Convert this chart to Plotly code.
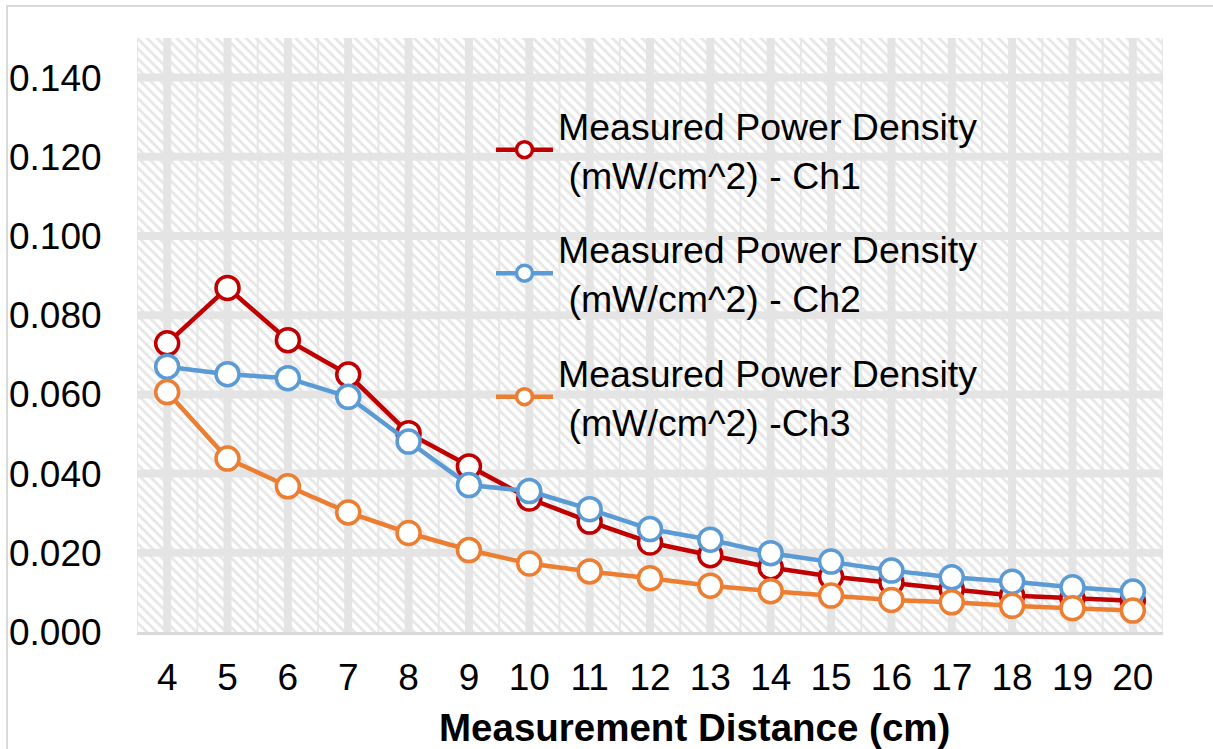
import plotly.graph_objects as go

distance = [4, 5, 6, 7, 8, 9, 10, 11, 12, 13, 14, 15, 16, 17, 18, 19, 20]
ch1 = [0.0729, 0.0869, 0.0737, 0.0650, 0.0502, 0.0418, 0.0337, 0.0279, 0.0226, 0.0194,
       0.0163, 0.0140, 0.0125, 0.0108, 0.0092, 0.0085, 0.0079]
ch2 = [0.0670, 0.0651, 0.0641, 0.0594, 0.0481, 0.0371, 0.0356, 0.0310, 0.0260, 0.0233,
       0.0199, 0.0178, 0.0155, 0.0138, 0.0127, 0.0113, 0.0102]
ch3 = [0.0606, 0.0438, 0.0368, 0.0302, 0.0250, 0.0207, 0.0173, 0.0153, 0.0136, 0.0117,
       0.0103, 0.0092, 0.0081, 0.0075, 0.0066, 0.0060, 0.0054]
names = ["Measured Power Density<br>\u00a0(mW/cm^2) - Ch1",
         "Measured Power Density<br>\u00a0(mW/cm^2) - Ch2",
         "Measured Power Density<br>\u00a0(mW/cm^2) -Ch3"]
colors = ["#C00000", "#5B9BD5", "#ED7D31"]
y_ticks = [0.00, 0.02, 0.04, 0.06, 0.08, 0.10, 0.12, 0.14]
y_max = 0.15
x_title = "Measurement Distance (cm)"

x_lo, x_hi = distance[0] - 0.5, distance[-1] + 0.5

fig = go.Figure()

# hatched plot background
fig.add_trace(go.Scatter(
    x=[x_lo, x_hi, x_hi, x_lo, x_lo], y=[0, 0, y_max, y_max, 0],
    mode="lines", line=dict(width=0), fill="toself",
    fillcolor="rgba(0,0,0,0)",
    fillpattern=dict(shape="\\", fgcolor="#cdcdcd", bgcolor="rgba(255,255,255,0)",
                     size=7, solidity=0.4),
    hoverinfo="skip", showlegend=False))

# thin vertical gridlines at category boundaries
gx, gy = [], []
for i in range(len(distance) + 1):
    xv = x_lo + i
    gx += [xv, xv, None]
    gy += [0, y_max, None]
fig.add_trace(go.Scatter(x=gx, y=gy, mode="lines", line=dict(color="#e6e6e6", width=2),
                         hoverinfo="skip", showlegend=False))
# thick vertical gridlines at categories
gx, gy = [], []
for xv in distance:
    gx += [xv, xv, None]
    gy += [0, y_max, None]
fig.add_trace(go.Scatter(x=gx, y=gy, mode="lines", line=dict(color="#e4e4e4", width=8),
                         hoverinfo="skip", showlegend=False))
# thick horizontal gridlines
gx, gy = [], []
for yv in y_ticks[1:]:
    gx += [x_lo, x_hi, None]
    gy += [yv, yv, None]
fig.add_trace(go.Scatter(x=gx, y=gy, mode="lines", line=dict(color="#e4e4e4", width=8),
                         hoverinfo="skip", showlegend=False))

for i, (ys, c, n) in enumerate(zip([ch1, ch2, ch3], colors, names)):
    fig.add_trace(go.Scatter(
        x=distance, y=ys, name=n, mode="lines+markers",
        line=dict(color=c, width=4.5),
        marker=dict(symbol="circle", size=23, color="white", line=dict(color=c, width=3.5)),
        legendgroup=f"g{i}"))

fig.update_layout(
    width=1213, height=749,
    margin=dict(l=137, r=50, t=38, b=117),
    paper_bgcolor="white", plot_bgcolor="white",
    font=dict(family="Liberation Sans, Arial, sans-serif", size=37, color="black"),
    showlegend=True,
    legend=dict(x=0.345, y=0.905, xanchor="left", yanchor="top",
                bgcolor="rgba(0,0,0,0)", borderwidth=0,
                font=dict(size=37.5), itemwidth=57, tracegroupgap=23,
                itemsizing="trace"),
    xaxis=dict(range=[x_lo, x_hi], tickvals=distance, ticktext=[str(d) for d in distance],
               showgrid=False, zeroline=False, showline=True, linecolor="#d9d9d9",
               linewidth=3, ticks="outside", ticklen=11, tickcolor="rgba(0,0,0,0)",
               automargin=False),
    yaxis=dict(range=[0, y_max], tickvals=y_ticks, tickformat=".3f",
               showgrid=False, zeroline=False, showline=False,
               ticks="outside", ticklen=27, tickcolor="rgba(0,0,0,0)",
               automargin=False),
    annotations=[dict(text=f"<b>{x_title}</b>", xref="paper", yref="paper",
                      x=(694 - 137) / 1026, y=(632 - 727) / 594,
                      xanchor="center", yanchor="middle", showarrow=False,
                      font=dict(size=38.5))],
    shapes=[dict(type="rect", xref="paper", yref="paper",
                 x0=(7 - 137) / 1026, x1=(1220 - 137) / 1026,
                 y0=(632 - 760) / 594, y1=(632 - 6) / 594,
                 line=dict(color="#d9d9d9", width=2), fillcolor="rgba(0,0,0,0)",
                 layer="below")],
)

fig.write_html("out.html")
